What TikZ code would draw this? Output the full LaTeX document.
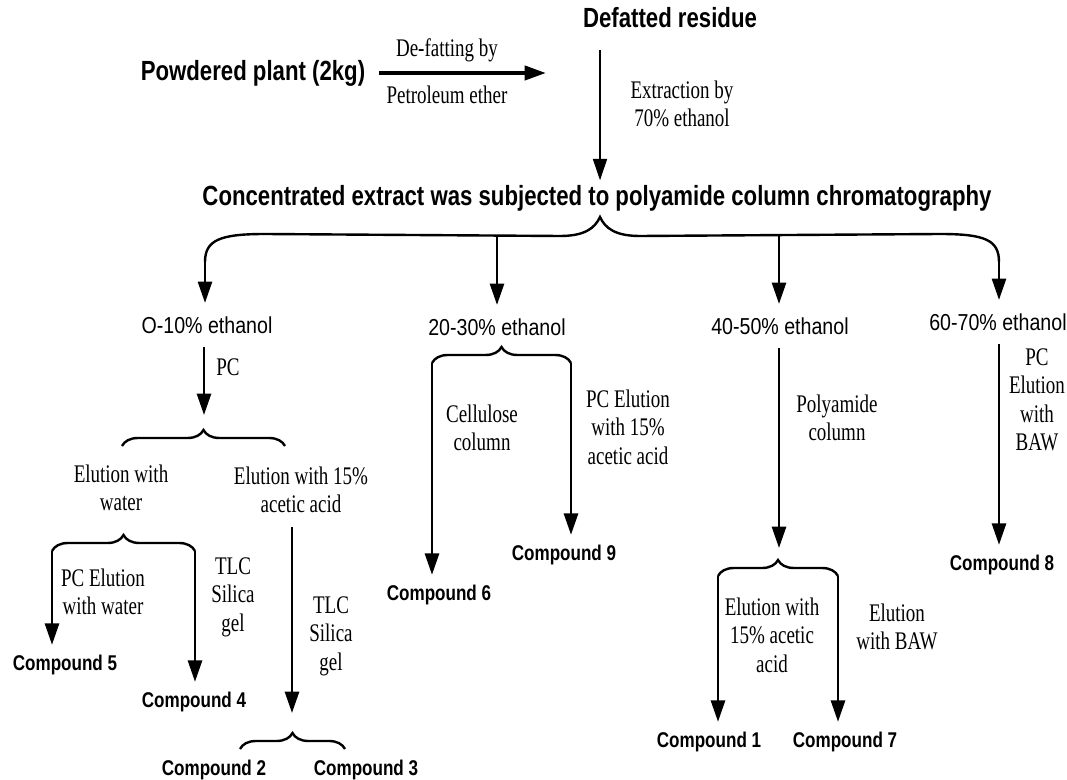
\documentclass[tikz,border=0pt]{standalone}
\usepackage{fontspec}
\setmainfont[FakeStretch=0.75]{Liberation Serif}
\setsansfont[FakeStretch=0.8]{Liberation Sans}
\newfontfamily\fracfont[FakeStretch=0.85]{Liberation Sans}
\usetikzlibrary{arrows.meta, decorations.pathreplacing}

\tikzset{
  head/.style={font=\sffamily\bfseries\fontsize{20.8}{24}\selectfont},
  frac/.style={font=\fracfont\fontsize{17.3}{20}\selectfont, inner ysep=10pt},
  cond/.style={font=\fontsize{19}{21.4}\selectfont, align=center},
  cmpd/.style={font=\sffamily\bfseries\fontsize{16}{19}\selectfont, inner ysep=7.5pt},
  arr/.style={-{Triangle[length=16pt,width=10.5pt]}, line width=2pt},
  brc/.style={decorate, decoration={brace, amplitude=12pt}, line width=1.8pt},
}

\begin{document}
\begin{tikzpicture}[x=0.75pt, y=-0.75pt]
  \useasboundingbox (0,0) rectangle (1067,780);
  % Start
  \node[head] (def) at (670,18) {Defatted residue};
  \node[head] (plant) at (253,73) {Powdered plant (2kg)};
  \node[cond] (defa) at (447,50) {De-fatting by};
  \node[cond] (pet) at (447,95) {Petroleum ether};
  \coordinate (dfin) at (546,73);
  \draw[arr, line width=3pt, shorten <=7pt] (plant.east) -- (dfin);
  % Extraction
  \node[head] (conc) at (597,198) {Concentrated extract was subjected to polyamide column chromatography};
  \node[cond] (ext) at (682,104) {Extraction by\\70\% ethanol};
  \coordinate (dtop) at (600,50);
  \draw[arr, line width=1.2pt] (dtop) -- (dtop |- conc.north);
  % Big brace
  \coordinate (bl) at (205,262);
  \coordinate (btip) at (600,217);
  \coordinate (br) at (999,262);
  \coordinate (m2) at (497,236);
  \coordinate (m3) at (779,236);
  \draw[line width=1.8pt] (bl) .. controls (205,240) and (220,234) .. (265,234) -- (560,236)
    .. controls (585,236) and (595,228) .. (btip) .. controls (605,228) and (615,236) .. (640,236)
    -- (940,234) .. controls (985,234) and (999,240) .. (br);
  % Fractions
  \node[frac] (f1) at (207,325) {O-10\% ethanol};
  \node[frac] (f2) at (497,327) {20-30\% ethanol};
  \node[frac] (f3) at (780,326) {40-50\% ethanol};
  \node[frac] (f4) at (998,322) {60-70\% ethanol};
  \draw[arr] (bl) -- (f1.north -| bl);
  \draw[arr] (m2) -- (f2.north -| m2);
  \draw[arr] (m3) -- (f3.north -| m3);
  \draw[arr] (br) -- (f4.north -| br);

  % O-10% ethanol
  \coordinate (b1t) at (204,415);
  \draw[arr] (f1.south -| b1t) -- (b1t);
  \node[cond] (pc1) at (228,367) {PC};
  \coordinate (b1l) at (122,446);
  \coordinate (b1r) at (285,446);
  \draw[brc] (b1l) -- (b1r);
  \node[cond] (e1) at (121,488) {Elution with\\water};
  \node[cond] (e2) at (301,490) {Elution with 15\%\\acetic acid};
  \coordinate (b2l) at (52,551);
  \coordinate (b2r) at (195,551);
  \draw[brc] (b2l) -- (b2r);
  \node[cond] (pe1) at (103,592) {PC Elution\\with water};
  \node[cond] (t1) at (233,597) {TLC\\Silica\\gel};
  \node[cmpd] (c5) at (65,665) {Compound 5};
  \node[cmpd] (c4) at (194,702) {Compound 4};
  \draw[arr] (b2l) -- (b2l |- c5.north);
  \draw[arr] (b2r) -- (b2r |- c4.north);
  \coordinate (a2s) at (292,527);
  \coordinate (a2e) at (292,713);
  \draw[arr] (a2s) -- (a2e);
  \node[cond] (t2) at (331,636) {TLC\\Silica\\gel};
  \coordinate (b3l) at (240,749);
  \coordinate (b3r) at (345,749);
  \draw[brc] (b3l) -- (b3r);
  \node[cmpd] (c2) at (214,770) {Compound 2};
  \node[cmpd] (c3) at (366,770) {Compound 3};

  % 20-30% ethanol
  \coordinate (b4l) at (432,363);
  \coordinate (b4r) at (571,363);
  \draw[brc] (b4l) -- (b4r);
  \node[cond] (cel) at (482,428) {Cellulose\\column};
  \node[cond] (pe2) at (628,427) {PC Elution\\with 15\%\\acetic acid};
  \node[cmpd] (c6) at (439,595) {Compound 6};
  \node[cmpd] (c9) at (564,555) {Compound 9};
  \draw[arr] (b4l) -- (b4l |- c6.north);
  \draw[arr] (b4r) -- (b4r |- c9.north);

  % 40-50% ethanol
  \coordinate (b5t) at (779,548);
  \draw[arr] (f3.south -| b5t) -- (b5t);
  \node[cond] (poly) at (837,418) {Polyamide\\column};
  \coordinate (b5l) at (718,576);
  \coordinate (b5r) at (838,576);
  \draw[brc] (b5l) -- (b5r);
  \node[cond] (e3) at (772,635) {Elution with\\15\% acetic\\acid};
  \node[cond] (e4) at (897,627) {Elution\\with BAW};
  \node[cmpd] (c1) at (709,742) {Compound 1};
  \node[cmpd] (c7) at (845,742) {Compound 7};
  \draw[arr] (b5l) -- (b5l |- c1.north);
  \draw[arr] (b5r) -- (b5r |- c7.north);

  % 60-70% ethanol
  \node[cond] (pe4) at (1037,400) {PC\\Elution\\with\\BAW};
  \node[cmpd] (c8) at (1002,565) {Compound 8};
  \draw[arr] (f4.south -| br) -- (br |- c8.north);
\end{tikzpicture}
\end{document}
